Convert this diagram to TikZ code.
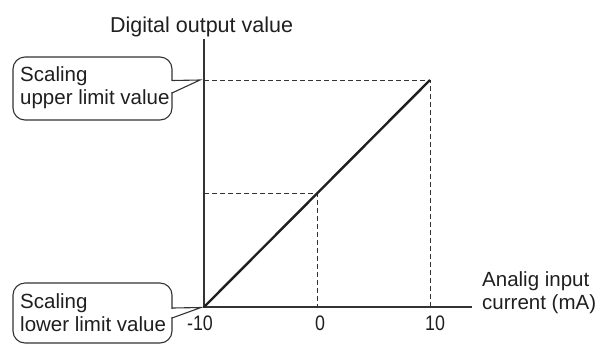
\documentclass[tikz,border=0pt]{standalone}
\usepackage{fontspec}
\setmainfont{Liberation Sans}
\begin{document}
\begin{tikzpicture}[x=1pt,y=-1pt,
  lbl/.style={font=\fontsize{20.5}{22.5}\selectfont, inner sep=0pt, text=black!88, align=left},
  axlbl/.style={font=\fontsize{21.5}{23}\selectfont, inner sep=0pt, text=black!88, align=left},
  ticklbl/.style={font=\fontsize{21}{23}\selectfont, inner sep=0pt, text=black!88, anchor=base},
  axis/.style={draw=black!80, line width=1.2pt},
  guide/.style={draw=black!80, line width=0.9pt, dash pattern=on 5pt off 3pt},
  callbox/.style={draw=black!80, line width=1.1pt, fill=white, rounded corners=12pt},
  callptr/.style={draw=black!80, line width=1.1pt, line join=miter},
  curve/.style={draw=black!88, line width=2.4pt}]
\useasboundingbox (0,0) rectangle (609,349);
% key points
\coordinate (O) at (204,307);
\coordinate (Ytop) at (204,39);
\coordinate (Xend) at (472,307);
\coordinate (P) at (430,80);
\coordinate (M) at (317,193);
% guides
\draw[guide] (O |- P) -- (P) -- (P |- O);
\draw[guide] (O |- M) -- (M) -- (M |- O);
% axes
\draw[axis] (Ytop) -- (O) -- (Xend);
% line
\draw[curve] (O) -- (P);
% axis labels
\node[axlbl, anchor=base west] (ylab) at (110,32) {Digital output value};
\node[lbl, anchor=base west] (xlab) at (482,309) {Analig input\\current (mA)};
% tick labels
\node[ticklbl] (tm10) at (200,330) {\scalebox{0.85}[1]{-10}};
\node[ticklbl] (t0) at (320,330) {\scalebox{0.85}[1]{0}};
\node[ticklbl] (t10) at (435,330) {\scalebox{0.85}[1]{10}};
% upper callout
\coordinate (uptip) at (200,80);
\draw[callbox] (13,57) rectangle (172,120);
\fill[white] (170.3,81.2) rectangle (173.7,92.3);
\draw[callptr] (172,80.5) -- (uptip) -- (172,93);
\node[lbl, anchor=base west] (upper) at (20,104) {Scaling\\upper limit value};
% lower callout
\coordinate (lotip) at (201,307.5);
\draw[callbox] (13,283) rectangle (172,343);
\fill[white] (170.3,308.7) rectangle (173.7,317.3);
\draw[callptr] (172,308) -- (lotip) -- (172,318);
\node[lbl, anchor=base west] (lower) at (20,331) {Scaling\\lower limit value};
\end{tikzpicture}
\end{document}
